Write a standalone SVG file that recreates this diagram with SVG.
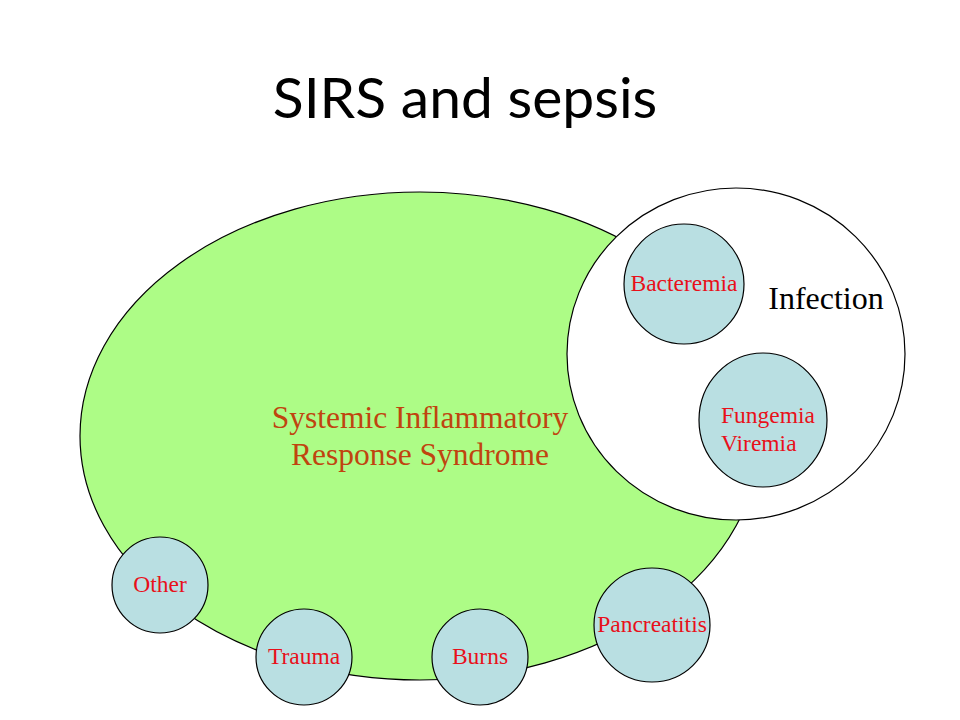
<svg xmlns="http://www.w3.org/2000/svg" width="960" height="720" viewBox="0 0 960 720">
<style>
.sm{fill:#b9dfe2;stroke:#000;stroke-width:1.2}
.ser{font-family:"Liberation Serif","Times New Roman",serif}
.lbl{font-size:23.5px;fill:#e8101a;text-anchor:middle}
</style>
<rect width="960" height="720" fill="#fff"/>
<text x="465" y="118" font-family="Lato, 'Open Sans', sans-serif" font-size="57" text-anchor="middle" fill="#000">SIRS and sepsis</text>
<g id="sirs">
<ellipse cx="420" cy="436" rx="340" ry="244" fill="#adfc86" stroke="#000" stroke-width="1.2"/>
<text class="ser" font-size="31.5" fill="#c0440f" text-anchor="middle"><tspan x="420" y="428">Systemic Inflammatory</tspan><tspan x="420" y="465">Response Syndrome</tspan></text>
</g>
<g id="infection">
<ellipse cx="736" cy="354" rx="169" ry="166" fill="#fff" stroke="#000" stroke-width="1.2"/>
<text x="826" y="309" class="ser" font-size="32" fill="#000" text-anchor="middle">Infection</text>
</g>
<g id="bacteremia">
<circle cx="684" cy="284" r="60" class="sm"/>
<text x="684" y="291" class="ser lbl">Bacteremia</text>
</g>
<g id="fungemia">
<ellipse cx="763" cy="420" rx="64" ry="67" class="sm"/>
<text class="ser" font-size="23.5" fill="#e8101a"><tspan x="721" y="423">Fungemia</tspan><tspan x="721" y="451">Viremia</tspan></text>
</g>
<g id="other">
<circle cx="160" cy="585" r="48" class="sm"/>
<text x="160" y="592" class="ser lbl">Other</text>
</g>
<g id="trauma">
<circle cx="304" cy="657" r="48" class="sm"/>
<text x="304" y="664" class="ser lbl">Trauma</text>
</g>
<g id="burns">
<circle cx="480" cy="657" r="48" class="sm"/>
<text x="480" y="664" class="ser lbl">Burns</text>
</g>
<g id="pancreatitis">
<ellipse cx="652" cy="625" rx="58" ry="57" class="sm"/>
<text x="652" y="632" class="ser lbl">Pancreatitis</text>
</g>
<g id="connectors"/>
</svg>
